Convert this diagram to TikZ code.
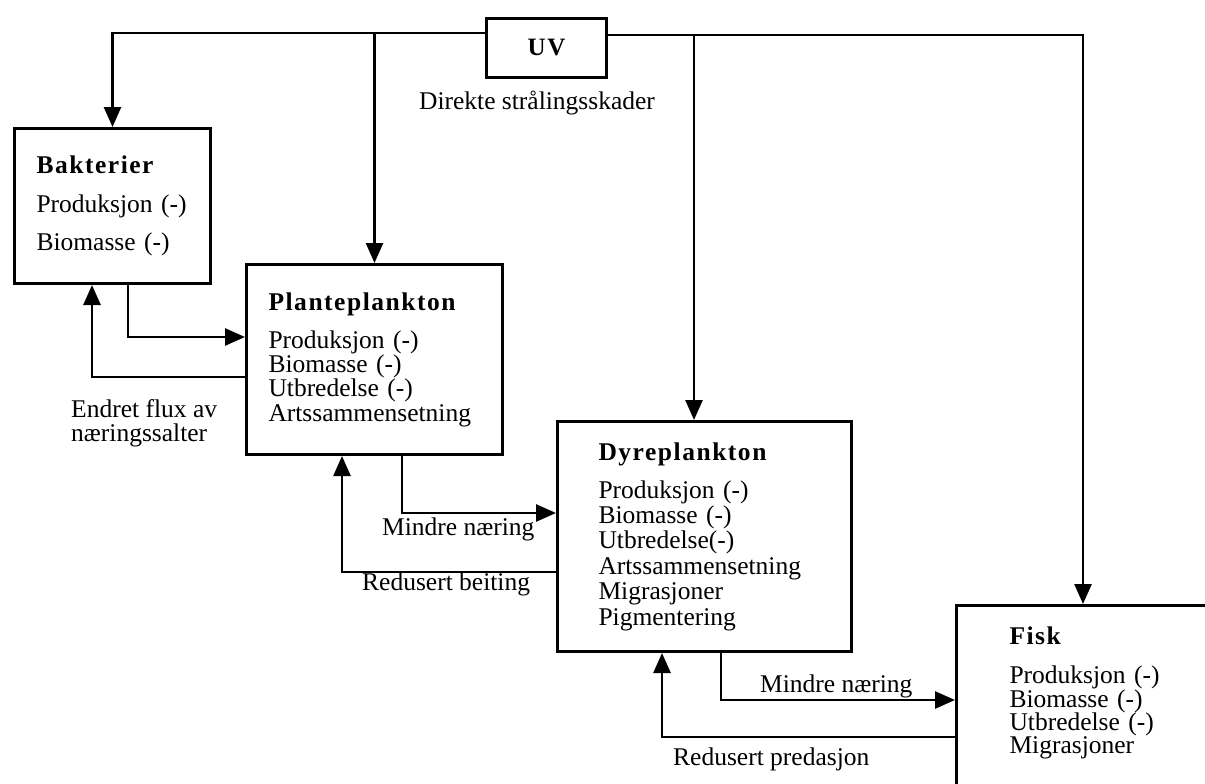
\documentclass[tikz,border=0pt]{standalone}
\usepackage{fontspec}
\setmainfont{Liberation Serif}
\newfontfamily\spacedserif[LetterSpace=6]{Liberation Serif}
\usetikzlibrary{arrows.meta}

\newcommand{\boxhead}[1]{{\spacedserif\bfseries #1}}

\begin{document}
\begin{tikzpicture}[x=1pt, y=-1pt,
    organism/.style={draw, line width=3pt, anchor=north west, align=left, inner ysep=0pt},
    flow/.style={line width=2.6pt, -{Triangle[length=20pt, width=17pt]}},
    caption/.style={inner sep=0pt, font=\fontsize{25.5}{24}\selectfont}]

    \path[use as bounding box, fill=white] (0,0) rectangle (1205,784);

    \node[organism, minimum width=120pt, minimum height=59pt, inner sep=0pt, align=center, font=\fontsize{25}{24}\selectfont] (uv) at (485,17) {\boxhead{UV}};

    \node[organism, minimum width=196pt, minimum height=155pt, inner xsep=22pt, text width=152pt, font=\fontsize{25.5}{38.5}\selectfont] (bakt) at (13,127) {\boxhead{Bakterier}\\ Produksjon (-)\\ Biomasse (-)};

    \node[organism, minimum width=256pt, minimum height=190pt, inner xsep=22pt, text width=212pt, font=\fontsize{25.5}{24.3}\selectfont] (plant) at (245,263) {\boxhead{Planteplankton}\\[13.7pt] Produksjon (-)\\ Biomasse (-)\\ Utbredelse (-)\\ Artssammensetning};

    \node[organism, minimum width=294pt, minimum height=230pt, inner xsep=41pt, text width=212pt, font=\fontsize{25.5}{25.4}\selectfont] (dyre) at (556,420) {\boxhead{Dyreplankton}\\[12.6pt] Produksjon (-)\\ Biomasse (-)\\ Utbredelse(-)\\ Artssammensetning\\ Migrasjoner\\ Pigmentering};

    \node[organism, minimum width=300pt, minimum height=223pt, inner xsep=53pt, text width=194pt, font=\fontsize{25.5}{23.3}\selectfont] (fisk) at (955,604) {\boxhead{Fisk}\\[15.7pt] Produksjon (-)\\ Biomasse (-)\\ Utbredelse (-)\\ Migrasjoner\\[30pt]\mbox{}};

    \node[caption, anchor=base] (dirlabel) at (537,110) {Direkte strålingsskader};

    \node[caption, anchor=north west, align=left] (fluxlabel) at (71,399) {Endret flux av\\ næringssalter};

    \node[caption, anchor=base west] (food1) at (382,535) {Mindre næring};

    \node[caption, anchor=base west] (graze) at (362,590) {Redusert beiting};

    \node[caption, anchor=base west] (food2) at (760,692) {Mindre næring};

    \node[caption, anchor=base west] (pred) at (673,765) {Redusert predasjon};

    % UV rays
    \coordinate (uvleft) at ([yshift=-16pt]uv.north west);
    \coordinate (uvright) at ([yshift=-18pt]uv.north east);
    \coordinate (dyretop) at ([xshift=138pt]dyre.north west);
    \coordinate (fisktop) at ([xshift=128pt]fisk.north west);

    \draw[flow] (uvleft) -| (bakt.north);

    \draw[flow] (plant.north |- uvleft) -- (plant.north);

    \draw[flow] (uvright) -| (fisktop);

    \draw[flow] (dyretop |- uvright) -- (dyretop);

    % food web
    \draw[flow] ([xshift=115pt]bakt.south west) |- ([yshift=-74pt]plant.north west);

    \draw[flow] ([yshift=-114pt]plant.north west) -| ([xshift=79pt]bakt.south west);

    \draw[flow] ([xshift=157pt]plant.south west) |- ([yshift=-93pt]dyre.north west);

    \draw[flow] ([yshift=-152pt]dyre.north west) -| ([xshift=97pt]plant.south west);

    \draw[flow] ([xshift=165pt]dyre.south west) |- ([yshift=-96pt]fisk.north west);

    \draw[flow] ([yshift=-133pt]fisk.north west) -| ([xshift=106pt]dyre.south west);

\end{tikzpicture}
\end{document}
